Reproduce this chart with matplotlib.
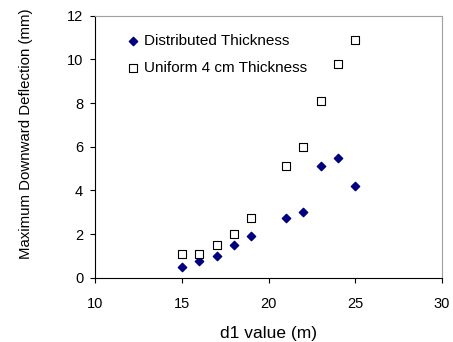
import matplotlib
matplotlib.use("Agg")
import matplotlib.pyplot as plt

plt.rcParams['font.family'] = ['Liberation Sans', 'DejaVu Sans']

# d1 values (m)
d1 = [15, 16, 17, 18, 19, 21, 22, 23, 24, 25]
# maximum downward deflection (mm)
distributed = [0.5, 0.75, 1.0, 1.5, 1.9, 2.75, 3.0, 5.1, 5.5, 4.2]
uniform = [1.1, 1.1, 1.5, 2.0, 2.75, 5.1, 6.0, 8.1, 9.8, 10.9]

fig = plt.figure(figsize=(4.53, 3.42), dpi=100)
ax = fig.add_axes([0.21, 0.188, 0.766, 0.766])

ax.scatter(d1, distributed, marker='D', s=18, color='#000080',
           label='Distributed Thickness', zorder=3)
ax.scatter(d1, uniform, marker='s', s=30, facecolor='white',
           edgecolor='black', linewidth=0.8,
           label='Uniform 4 cm Thickness', zorder=3)

ax.set_xlim(10, 30)
ax.set_ylim(0, 12)
ax.set_xticks([10, 15, 20, 25, 30])
ax.set_yticks([0, 2, 4, 6, 8, 10, 12])
ax.tick_params(labelsize=10.5, length=3.6, width=0.8)
ax.tick_params(axis='x', pad=10)
ax.tick_params(axis='y', pad=5)
ax.set_xlabel('d1 value (m)', fontsize=12.5, labelpad=11)
ax.set_ylabel('Maximum Downward Deflection (mm)', fontsize=10.8)
ax.yaxis.set_label_coords(-0.178, 0.548)

ax.spines['top'].set_color('#a0a0a0')
ax.spines['right'].set_color('#a0a0a0')

ax.legend(loc='upper left', frameon=False, fontsize=11, handletextpad=0.1,
          borderaxespad=0.8, labelspacing=0.85, handlelength=1.2,
          bbox_to_anchor=(0.03, 1.0))

fig.savefig('out.png', dpi=100)
